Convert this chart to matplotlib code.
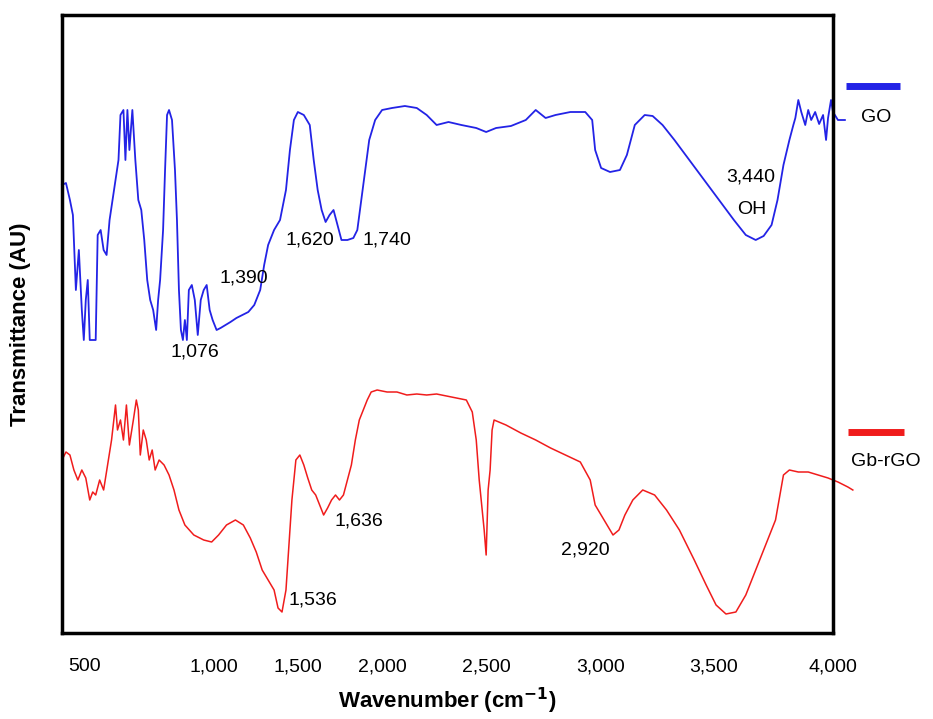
import numpy as np
import matplotlib
matplotlib.use("Agg")
import matplotlib.pyplot as plt

plt.rcParams['font.family'] = ['Liberation Sans', 'DejaVu Sans']

# Spectra (x: position along axis, y: transmittance, AU)
go_x = [62,66,70,73,76,79,82,84,86,88,90,96,98,101,104,107,110,113,116,119,121,124,126,128,130,133,136,139,142,145,148,151,154,157,159,161,164,166,168,170,173,176,178,180,182,184,186,188,190,193,196,199,202,205,208,211,214,218,222,227,232,238,244,250,256,262,266,270,276,282,288,292,296,300,306,312,316,320,324,328,332,336,340,344,350,356,360,364,368,372,378,385,395,408,420,430,440,452,465,480,490,500,515,530,540,550,560,575,590,597,600,606,615,625,632,640,650,658,668,680,695,710,725,740,752,762,770,778,784,790,796,800,802,805,808,812,815,818,822,826,830,833,835,838,840,845,852]
go_y = [185,183,200,215,290,250,310,340,300,280,340,340,235,230,250,255,220,200,180,160,115,110,160,110,150,110,160,200,210,240,280,300,310,330,300,280,230,170,115,110,120,170,220,290,330,340,320,340,290,285,300,335,300,290,285,310,320,330,328,325,322,318,315,312,305,290,265,245,230,220,190,150,120,112,115,125,160,190,210,222,215,210,225,240,240,238,230,200,170,140,120,110,108,106,108,115,125,122,125,128,132,128,126,120,110,118,115,112,112,120,150,168,172,170,155,125,115,116,125,140,160,180,200,220,235,240,236,225,200,165,140,125,118,100,112,125,110,120,112,124,115,140,118,100,112,120,120]
rgo_x = [62,66,70,74,78,82,86,90,93,96,100,104,108,112,116,118,121,124,127,130,134,137,139,141,144,147,150,153,156,160,165,170,175,180,186,195,205,213,220,228,237,245,252,258,264,270,276,280,284,288,290,294,298,302,306,310,314,318,322,326,330,334,338,342,346,350,354,358,362,366,370,374,380,390,400,410,420,430,440,450,460,470,476,480,483,486,488,490,492,494,496,498,510,525,540,555,570,585,595,600,606,612,618,624,630,638,648,660,672,685,700,712,722,732,742,752,762,772,782,790,796,805,815,825,835,845,855,860]
rgo_y = [460,452,455,470,480,470,478,500,492,495,480,490,465,440,405,430,420,440,405,445,420,400,410,455,430,440,460,450,470,460,465,475,490,510,525,535,540,542,535,525,520,525,538,552,570,580,590,608,612,590,560,500,460,455,465,478,490,495,505,515,508,500,495,500,495,480,465,440,420,410,400,392,390,392,392,395,394,395,394,396,398,400,412,440,480,510,530,555,490,470,430,420,425,433,440,448,455,462,480,505,515,525,535,530,515,500,490,495,510,530,560,585,605,614,612,595,570,545,520,475,470,472,472,475,478,482,487,490]
tick_pos = [85, 215, 300, 385, 490, 605, 720, 840]
tick_labels = ["500", "1,000", "1,500", "2,000", "2,500", "3,000", "3,500", "4,000"]

fig = plt.figure(figsize=(9.33, 7.19), dpi=100)
ax = fig.add_axes([62/933, 1-633/719, (833-62)/933, (633-15)/719])
ax.set_xlim(62, 833)
ax.set_ylim(633, 15)
ax.plot(go_x, go_y, color="#2323e6", lw=1.3, clip_on=False)
ax.plot(rgo_x, rgo_y, color="#f01c1c", lw=1.1, clip_on=False)
ax.set_xticks(tick_pos)
ax.set_xticklabels(tick_labels, fontsize=14)
ax.tick_params(axis="x", length=0, pad=18)
ax.set_yticks([])
for s in ax.spines.values():
    s.set_linewidth(2.5)
ax.set_xlabel("Wavenumber (cm$^{\\mathbf{-1}}$)", fontsize=16, fontweight="bold", labelpad=8)
ax.set_ylabel("Transmittance (AU)", fontsize=16, fontweight="bold", labelpad=22)

anns = [(196, 352, "1,076"), (245, 278, "1,390"), (312, 240, "1,620"), (390, 240, "1,740"),
        (757, 177, "3,440"), (758, 210, "OH"), (362, 521, "1,636"), (315, 600, "1,536"),
        (590, 550, "2,920")]
for x, y, t in anns:
    ax.text(x, y, t, fontsize=14, ha="center", va="center", clip_on=False)

# legend
ax.plot([853, 908], [86, 86], color="#2323e6", lw=5, clip_on=False, solid_capstyle="butt")
ax.text(884, 117, "GO", fontsize=14, ha="center", va="center")
ax.plot([855, 912], [432, 432], color="#f01c1c", lw=5, clip_on=False, solid_capstyle="butt")
ax.text(893, 462, "Gb-rGO", fontsize=14, ha="center", va="center")

fig.savefig("out.png", dpi=100)
